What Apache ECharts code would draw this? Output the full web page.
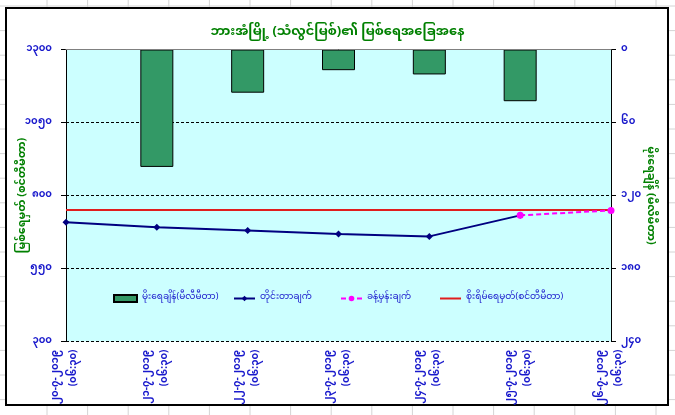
<!DOCTYPE html>
<html>
<head>
<meta charset="utf-8">
<script src="https://cdn.jsdelivr.net/npm/echarts@6/dist/echarts.min.js"></script>
<style>
html, body { margin: 0; padding: 0; background: #fff; }
#main { width: 675px; height: 415px; }
</style>
</head>
<body>
<div id="main"></div>
<script>
// 数据
var dates = ["၂၀-၇-၂၀၁၉", "၂၁-၇-၂၀၁၉", "၂၂-၇-၂၀၁၉", "၂၃-၇-၂၀၁၉", "၂၄-၇-၂၀၁၉", "၂၅-၇-၂၀၁၉", "၂၆-၇-၂၀၁၉"];
var readTime = "(၀၆:၃၀)";
var rainfall = ["-", 96.5, 35.5, 17, 20.5, 42.5, "-"];
var observed = [708, 691, 680, 668, 660, 732, "-"];
var forecast = ["-", "-", "-", "-", "-", 732, 749];
var alertLevel = [750, 750, 750, 750, 750, 750, 750];
var levelTicks = [300, 550, 800, 1050, 1300];
var rainTicks = [0, 60, 120, 180, 240];

var names = {
    rain: "မိုးရေချိန်(မီလီမီတာ)",
    obs: "တိုင်းတာချက်",
    fc: "ခန့်မှန်းချက်",
    alert: "စိုးရိမ်ရေမှတ်(စင်တီမီတာ)"
};

var mmFont = "'Noto Sans Myanmar', Padauk, 'Myanmar Text', 'Noto Sans', sans-serif";
var mmDigits = ["၀", "၁", "၂", "၃", "၄", "၅", "၆", "၇", "၈", "၉"];
function toMm(v) {
    return String(v).replace(/[0-9]/g, function(d) { return mmDigits[+d]; });
}

(function() {
    var myChart = echarts.init(document.getElementById("main"));

    // 表格背景线 (Excel sheet)
    var sheet = [];
    for (var y = 6; y < 415; y += 24.6) {
        sheet.push({ type: "line", z: -100, shape: { x1: 0, y1: y, x2: 675, y2: y }, style: { stroke: "#d4d4d4", lineWidth: 1 } });
    }
    for (var x = 47; x < 675; x += 40.6) {
        sheet.push({ type: "line", z: -100, shape: { x1: x, y1: 0, x2: x, y2: 415 }, style: { stroke: "#d4d4d4", lineWidth: 1 } });
    }
    sheet.push({
        type: "rect", z: -90,
        shape: { x: 6, y: 8, width: 662, height: 397 },
        style: { fill: "#fff", stroke: "#000", lineWidth: 2 }
    });

    var categories = dates.map(function(d) { return d + "\n" + readTime; });

    // 图例: 每项单独定位
    function legendItem(name, left, opts) {
        return Object.assign({
            data: [name],
            top: 294,
            left: left,
            itemWidth: 21,
            itemHeight: 7,
            itemGap: 3,
            padding: 0,
            textStyle: { color: "#1a1acc", fontSize: 9, fontFamily: mmFont }
        }, opts || {});
    }

    var option = {
        animation: false,
        graphic: sheet,
        title: {
            text: "ဘားအံမြို့ (သံလွင်မြစ်)၏ မြစ်ရေအခြေအနေ",
            left: "center",
            top: 22,
            textStyle: { color: "#008000", fontSize: 13, fontWeight: "bold", fontFamily: mmFont }
        },
        legend: [
            legendItem(names.rain, 113, { icon: "rect", itemWidth: 23 }),
            legendItem(names.obs, 233),
            legendItem(names.fc, 340),
            legendItem(names.alert, 440, { icon: "rect", itemHeight: 2 })
        ],
        grid: {
            left: 66,
            right: 64,
            top: 49.5,
            bottom: 73.5,
            show: true,
            backgroundColor: "#ccffff",
            borderWidth: 0
        },
        xAxis: [{
            type: "category",
            data: categories,
            boundaryGap: false,
            axisLine: { lineStyle: { color: "#000", width: 1 } },
            axisTick: { show: true, length: 5, lineStyle: { color: "#000" } },
            axisLabel: {
                rotate: 90,
                margin: 8,
                interval: 0,
                color: "#1a1acc",
                fontSize: 10,
                fontWeight: "bold",
                fontFamily: mmFont,
                lineHeight: 18
            }
        }, {
            // 顶部边框
            type: "category",
            position: "top",
            data: categories,
            boundaryGap: false,
            z: 5,
            axisLine: { lineStyle: { color: "#808080", width: 1 } },
            axisTick: { show: false },
            axisLabel: { show: false }
        }],
        yAxis: [{
            type: "value",
            min: 300,
            max: 1300,
            interval: 250,
            name: "မြစ်ရေမှတ် (စင်တီမီတာ)",
            nameLocation: "middle",
            nameRotate: 90,
            nameGap: 37,
            nameMoveOverlap: false,
            nameTextStyle: { color: "#008000", fontSize: 11, fontWeight: "bold", fontFamily: mmFont },
            axisLine: { show: true, lineStyle: { color: "#000" } },
            axisTick: { show: true, length: 5, lineStyle: { color: "#000" } },
            axisLabel: {
                color: "#1a1acc",
                fontSize: 10,
                fontWeight: "bold",
                fontFamily: mmFont,
                margin: 14,
                formatter: function(v) { return levelTicks.indexOf(v) >= 0 ? toMm(v) : ""; }
            },
            splitLine: { show: true, lineStyle: { color: "#000", type: [3, 2], width: 1 } }
        }, {
            type: "value",
            min: 0,
            max: 240,
            interval: 60,
            inverse: true,
            name: "မိုးရေချိန် (မီလီမီတာ)",
            nameLocation: "middle",
            nameRotate: -90,
            nameGap: 33,
            nameMoveOverlap: false,
            nameTextStyle: { color: "#008000", fontSize: 11, fontWeight: "bold", fontFamily: mmFont },
            axisLine: { show: true, lineStyle: { color: "#000" } },
            axisTick: { show: true, length: 5, lineStyle: { color: "#000" } },
            axisLabel: {
                color: "#1a1acc",
                fontSize: 10,
                fontWeight: "bold",
                fontFamily: mmFont,
                margin: 10,
                formatter: function(v) { return rainTicks.indexOf(v) >= 0 ? toMm(v) : ""; }
            },
            splitLine: { show: false }
        }],
        series: [{
            name: names.rain,
            type: "bar",
            yAxisIndex: 1,
            barWidth: 33,
            data: rainfall,
            itemStyle: { color: "#339966", borderColor: "#000", borderWidth: 1 }
        }, {
            name: names.alert,
            type: "line",
            data: alertLevel,
            symbol: "none",
            lineStyle: { color: "#e01e1e", width: 2 },
            itemStyle: { color: "#e01e1e" }
        }, {
            name: names.obs,
            type: "line",
            data: observed,
            symbol: "diamond",
            symbolSize: 7,
            lineStyle: { color: "#000080", width: 2 },
            itemStyle: { color: "#000080" }
        }, {
            name: names.fc,
            type: "line",
            data: forecast,
            symbol: "circle",
            symbolSize: 7,
            lineStyle: { color: "#ff00ff", width: 2, type: [5, 3] },
            itemStyle: { color: "#ff00ff" }
        }]
    };

    myChart.setOption(option);
    window.addEventListener("resize", function() {
        myChart.resize();
    });
})();
</script>
</body>
</html>
